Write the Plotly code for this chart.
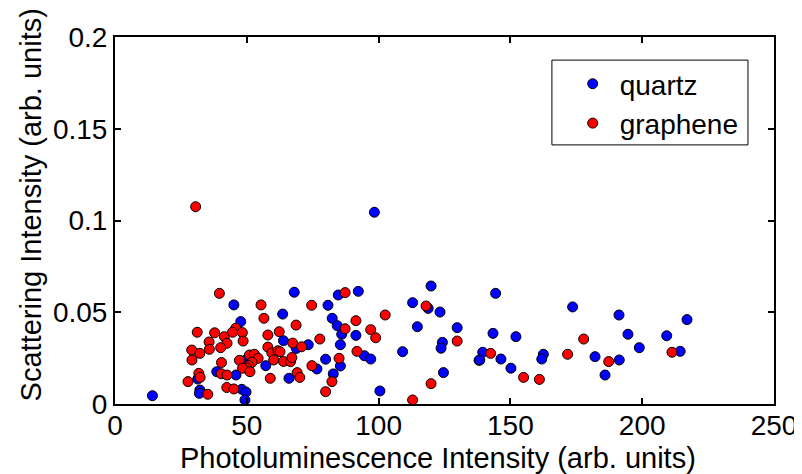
import plotly.graph_objects as go

# Quartz (blue) points: photoluminescence intensity, scattering intensity
quartz_x = [14.2, 45.1, 47.7, 63.6, 68.0, 63.9, 68.8, 57.2, 38.6, 45.9, 31.4, 32.2, 32.0, 48.1, 49.7, 49.3, 66.0, 49.6,
            98.4, 84.7, 92.3, 80.8, 82.4, 84.3, 86.0, 91.4, 85.5, 73.3, 94.6, 97.0, 79.9, 85.5, 76.6, 82.8, 100.5,
            112.9, 119.9, 118.8, 123.3, 114.7, 129.8, 109.1, 124.2, 123.7, 124.6, 138.1,
            144.4, 173.6, 191.2, 143.4, 152.1, 194.6, 198.9, 139.5, 138.4, 146.4, 162.5, 161.9, 150.2, 182.1, 191.3,
            185.9, 209.3, 217.0, 214.4]
quartz_y = [0.0045, 0.054, 0.0449, 0.049, 0.0609, 0.0345, 0.0303, 0.0209, 0.0176, 0.0158, 0.0136, 0.0076, 0.0058, 0.008,
            0.0065, 0.0022, 0.014, 0.024,
            0.1045, 0.0594, 0.0614, 0.0538, 0.0467, 0.0427, 0.038, 0.0374, 0.0323, 0.0323, 0.0263, 0.0245, 0.0244,
            0.0207, 0.0191, 0.0164, 0.0071,
            0.0552, 0.0643, 0.0521, 0.0501, 0.0421, 0.0416, 0.0285, 0.0336, 0.0304, 0.0171, 0.0238,
            0.0603, 0.0529, 0.0485, 0.0385, 0.0367, 0.038, 0.0307, 0.0282, 0.024, 0.0245, 0.0271, 0.0245, 0.0195,
            0.0258, 0.024, 0.0158, 0.0372, 0.046, 0.0287]

# Graphene (red) points
graphene_x = [30.6, 39.6, 55.4, 56.5, 31.2, 37.8, 41.5, 45.8, 44.6, 48.3, 48.6, 42.5, 35.7, 35.8, 40.1, 29.1, 32.2, 29.2,
              40.4, 47.2, 51.0, 52.9, 54.3, 52.0, 50.7, 50.0, 48.4, 51.2, 58.0, 58.0, 59.5, 61.8, 62.3, 60.2, 63.9,
              66.6, 67.1, 68.7, 67.4, 27.7, 31.8, 32.3, 40.3, 42.5, 35.2, 42.4, 45.1, 58.9, 69.1, 70.1,
              87.3, 74.6, 91.4, 87.3, 102.5, 97.0, 98.9, 77.7, 70.8, 62.6, 91.8, 85.0, 74.7, 82.3, 79.9, 118.0,
              129.8, 119.9, 112.9,
              142.5, 155.0, 161.0, 171.7, 177.8, 187.3, 211.3]
graphene_y = [0.1075, 0.0603, 0.054, 0.0467, 0.0391, 0.0388, 0.0367, 0.0413, 0.0391, 0.0389, 0.0343, 0.0331, 0.0338,
              0.0298, 0.0307, 0.0294, 0.0276, 0.024, 0.0226, 0.0238, 0.0267, 0.0271, 0.0249, 0.0228, 0.0209, 0.0196,
              0.0195, 0.0176, 0.0376, 0.031, 0.0278, 0.029, 0.0394, 0.024, 0.0232, 0.0231, 0.0253, 0.043, 0.0332,
              0.0122, 0.0167, 0.0145, 0.0165, 0.0158, 0.0053, 0.009, 0.0082, 0.014, 0.0171, 0.0145,
              0.0607, 0.0538, 0.0454, 0.041, 0.0485, 0.0405, 0.0361, 0.0354, 0.0312, 0.0285, 0.0287, 0.0249, 0.0209,
              0.0122, 0.0067, 0.0534, 0.0343, 0.0111, 0.0022,
              0.0276, 0.0145, 0.0134, 0.0271, 0.0354, 0.0231, 0.0282]

x_ticks = [0, 50, 100, 150, 200, 250]
y_ticks = [0, 0.05, 0.1, 0.15, 0.2]
y_tick_labels = ["0", "0.05", "0.1", "0.15", "0.2"]

x_title = "Photoluminescence Intensity (arb. units)"
y_title = "Scattering Intensity (arb. units)"

FONT = "Liberation Sans, Arial, sans-serif"
TICK_SIZE = 28
TITLE_SIZE = 29
LEGEND_SIZE = 28

fig = go.Figure()
fig.add_trace(go.Scatter(x=quartz_x, y=quartz_y, mode="markers", name="quartz",
                         marker=dict(color="#0000ff", size=10, line=dict(color="black", width=1))))
fig.add_trace(go.Scatter(x=graphene_x, y=graphene_y, mode="markers", name="graphene",
                         marker=dict(color="#ff0000", size=10, line=dict(color="black", width=1))))

axis_common = dict(showgrid=False, zeroline=False, showline=True, linecolor="black", linewidth=2,
                   mirror="ticks", ticks="inside", ticklen=6, tickwidth=2, tickcolor="black",
                   automargin=False,
                   tickfont=dict(family=FONT, size=TICK_SIZE, color="black"))

fig.update_xaxes(range=[0, 250], tickvals=x_ticks, ticklabelstandoff=-5, **axis_common)
fig.update_yaxes(range=[0, 0.2], tickvals=y_ticks, ticktext=y_tick_labels, **axis_common)

fig.add_annotation(text=x_title, xref="paper", yref="paper", x=0.49, y=-0.146,
                   xanchor="center", yanchor="middle", showarrow=False,
                   font=dict(family=FONT, size=TITLE_SIZE, color="black"))
fig.add_annotation(text=y_title, xref="paper", yref="paper", x=-0.127, y=0.542,
                   xanchor="center", yanchor="middle", showarrow=False, textangle=-90,
                   font=dict(family=FONT, size=TITLE_SIZE, color="black"))

# legend frame
fig.add_shape(type="rect", xref="paper", yref="paper", x0=0.663, x1=0.9605, y0=0.706, y1=0.937,
              line=dict(color="black", width=1), fillcolor="white", layer="above")

fig.update_layout(
    width=802, height=474,
    margin=dict(l=107, r=36, t=29, b=78),
    paper_bgcolor="white", plot_bgcolor="white",
    font=dict(family=FONT, size=TICK_SIZE, color="black"),
    legend=dict(x=0.954, y=0.94, xanchor="right", yanchor="top",
                borderwidth=0, bgcolor="rgba(0,0,0,0)", itemwidth=44,
                font=dict(family=FONT, size=LEGEND_SIZE, color="black")),
)

fig.write_html("out.html")
